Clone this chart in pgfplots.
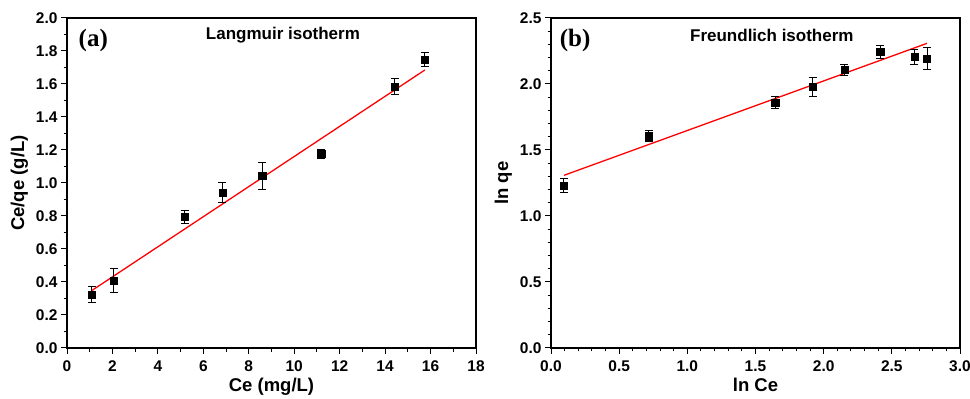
\documentclass[border=0pt]{standalone}
\usepackage{fontspec}
\setmainfont{Liberation Sans}
\newfontfamily\timesf{Liberation Serif}
\usepackage{pgfplots}
\pgfplotsset{compat=1.18}
\pgfplotsset{
  common/.style={
    scale only axis, width=409pt, height=330pt, anchor=south west,
    axis line style={line width=1.1pt}, 
    tick style={line width=1pt, black},
    xtick pos=left, ytick pos=left, tick align=outside,
    major tick length=6pt, minor tick length=3.5pt,
    tick label style={font=\fontsize{15.5}{15.5}\selectfont\bfseries},
    xticklabel style={yshift=-3pt},
    /pgf/number format/assume math mode=true,
    label style={font=\fontsize{18.5}{18.5}\selectfont\bfseries},
    xlabel style={yshift=0pt},
    ylabel style={yshift=1pt},
  },
  pts/.style={only marks, mark=square*, mark size=3.6pt, black,
    error bars/.cd, y dir=both, y explicit,
    error bar style={line width=1pt, black},
    error mark options={rotate=90, mark size=4pt, line width=1pt, black}},
  fit/.style={red, line width=1.3pt, no marks},
}
\begin{document}
\begin{tikzpicture}
\useasboundingbox (0,0) rectangle (970pt,399pt);
\begin{axis}[common, at={(67pt,51pt)},
  xmin=0, xmax=18, ymin=0, ymax=2.0,
  xtick={0,2,...,18}, ytick={0,0.2,...,2.0},
  minor x tick num=1, minor y tick num=1,
  yticklabel style={/pgf/number format/.cd, fixed, fixed zerofill, precision=1},
  xlabel={Ce (mg/L)}, ylabel={Ce/qe (g/L)},
]
\addplot[fit] coordinates {(1.10,0.349) (15.75,1.685)};
\addplot[pts] coordinates {
 (1.10,0.323) +- (0,0.050)
 (2.06,0.410) +- (0,0.073)
 (5.18,0.796) +- (0,0.040)
 (6.84,0.941) +- (0,0.060)
 (8.59,1.042) +- (0,0.080)
 (11.19,1.178) +- (0,0.027)
 (14.43,1.584) +- (0,0.050)
 (15.75,1.749) +- (0,0.041)
};
\node[anchor=west, font=\timesf\fontsize{25}{25}\selectfont\bfseries] at (axis description cs:0.020,0.933) {(a)};
\node[font=\fontsize{17}{17}\selectfont\bfseries] at (axis description cs:0.528,0.948) {Langmuir isotherm};
\end{axis}
\begin{axis}[common, at={(551pt,51pt)},
  xmin=0, xmax=3.0, ymin=0, ymax=2.5,
  xtick={0,0.5,...,3.0}, ytick={0,0.5,...,2.5},
  minor x tick num=4, minor y tick num=4,
  xticklabel style={/pgf/number format/.cd, fixed, fixed zerofill, precision=1},
  yticklabel style={/pgf/number format/.cd, fixed, fixed zerofill, precision=1},
  xlabel={ln Ce}, ylabel={ln qe},
]
\addplot[fit] coordinates {(0.095,1.308) (2.758,2.308)};
\addplot[pts] coordinates {
 (0.095,1.230) +- (0,0.052)
 (0.718,1.604) +- (0,0.043)
 (1.644,1.861) +- (0,0.047)
 (1.920,1.977) +- (0,0.072)
 (2.152,2.109) +- (0,0.042)
 (2.414,2.242) +- (0,0.052)
 (2.666,2.205) +- (0,0.060)
 (2.758,2.192) +- (0,0.082)
};
\node[anchor=west, font=\timesf\fontsize{25}{25}\selectfont\bfseries] at (axis description cs:0.013,0.933) {(b)};
\node[font=\fontsize{17}{17}\selectfont\bfseries] at (axis description cs:0.54,0.948) {Freundlich isotherm};
\end{axis}
\end{tikzpicture}
\end{document}
